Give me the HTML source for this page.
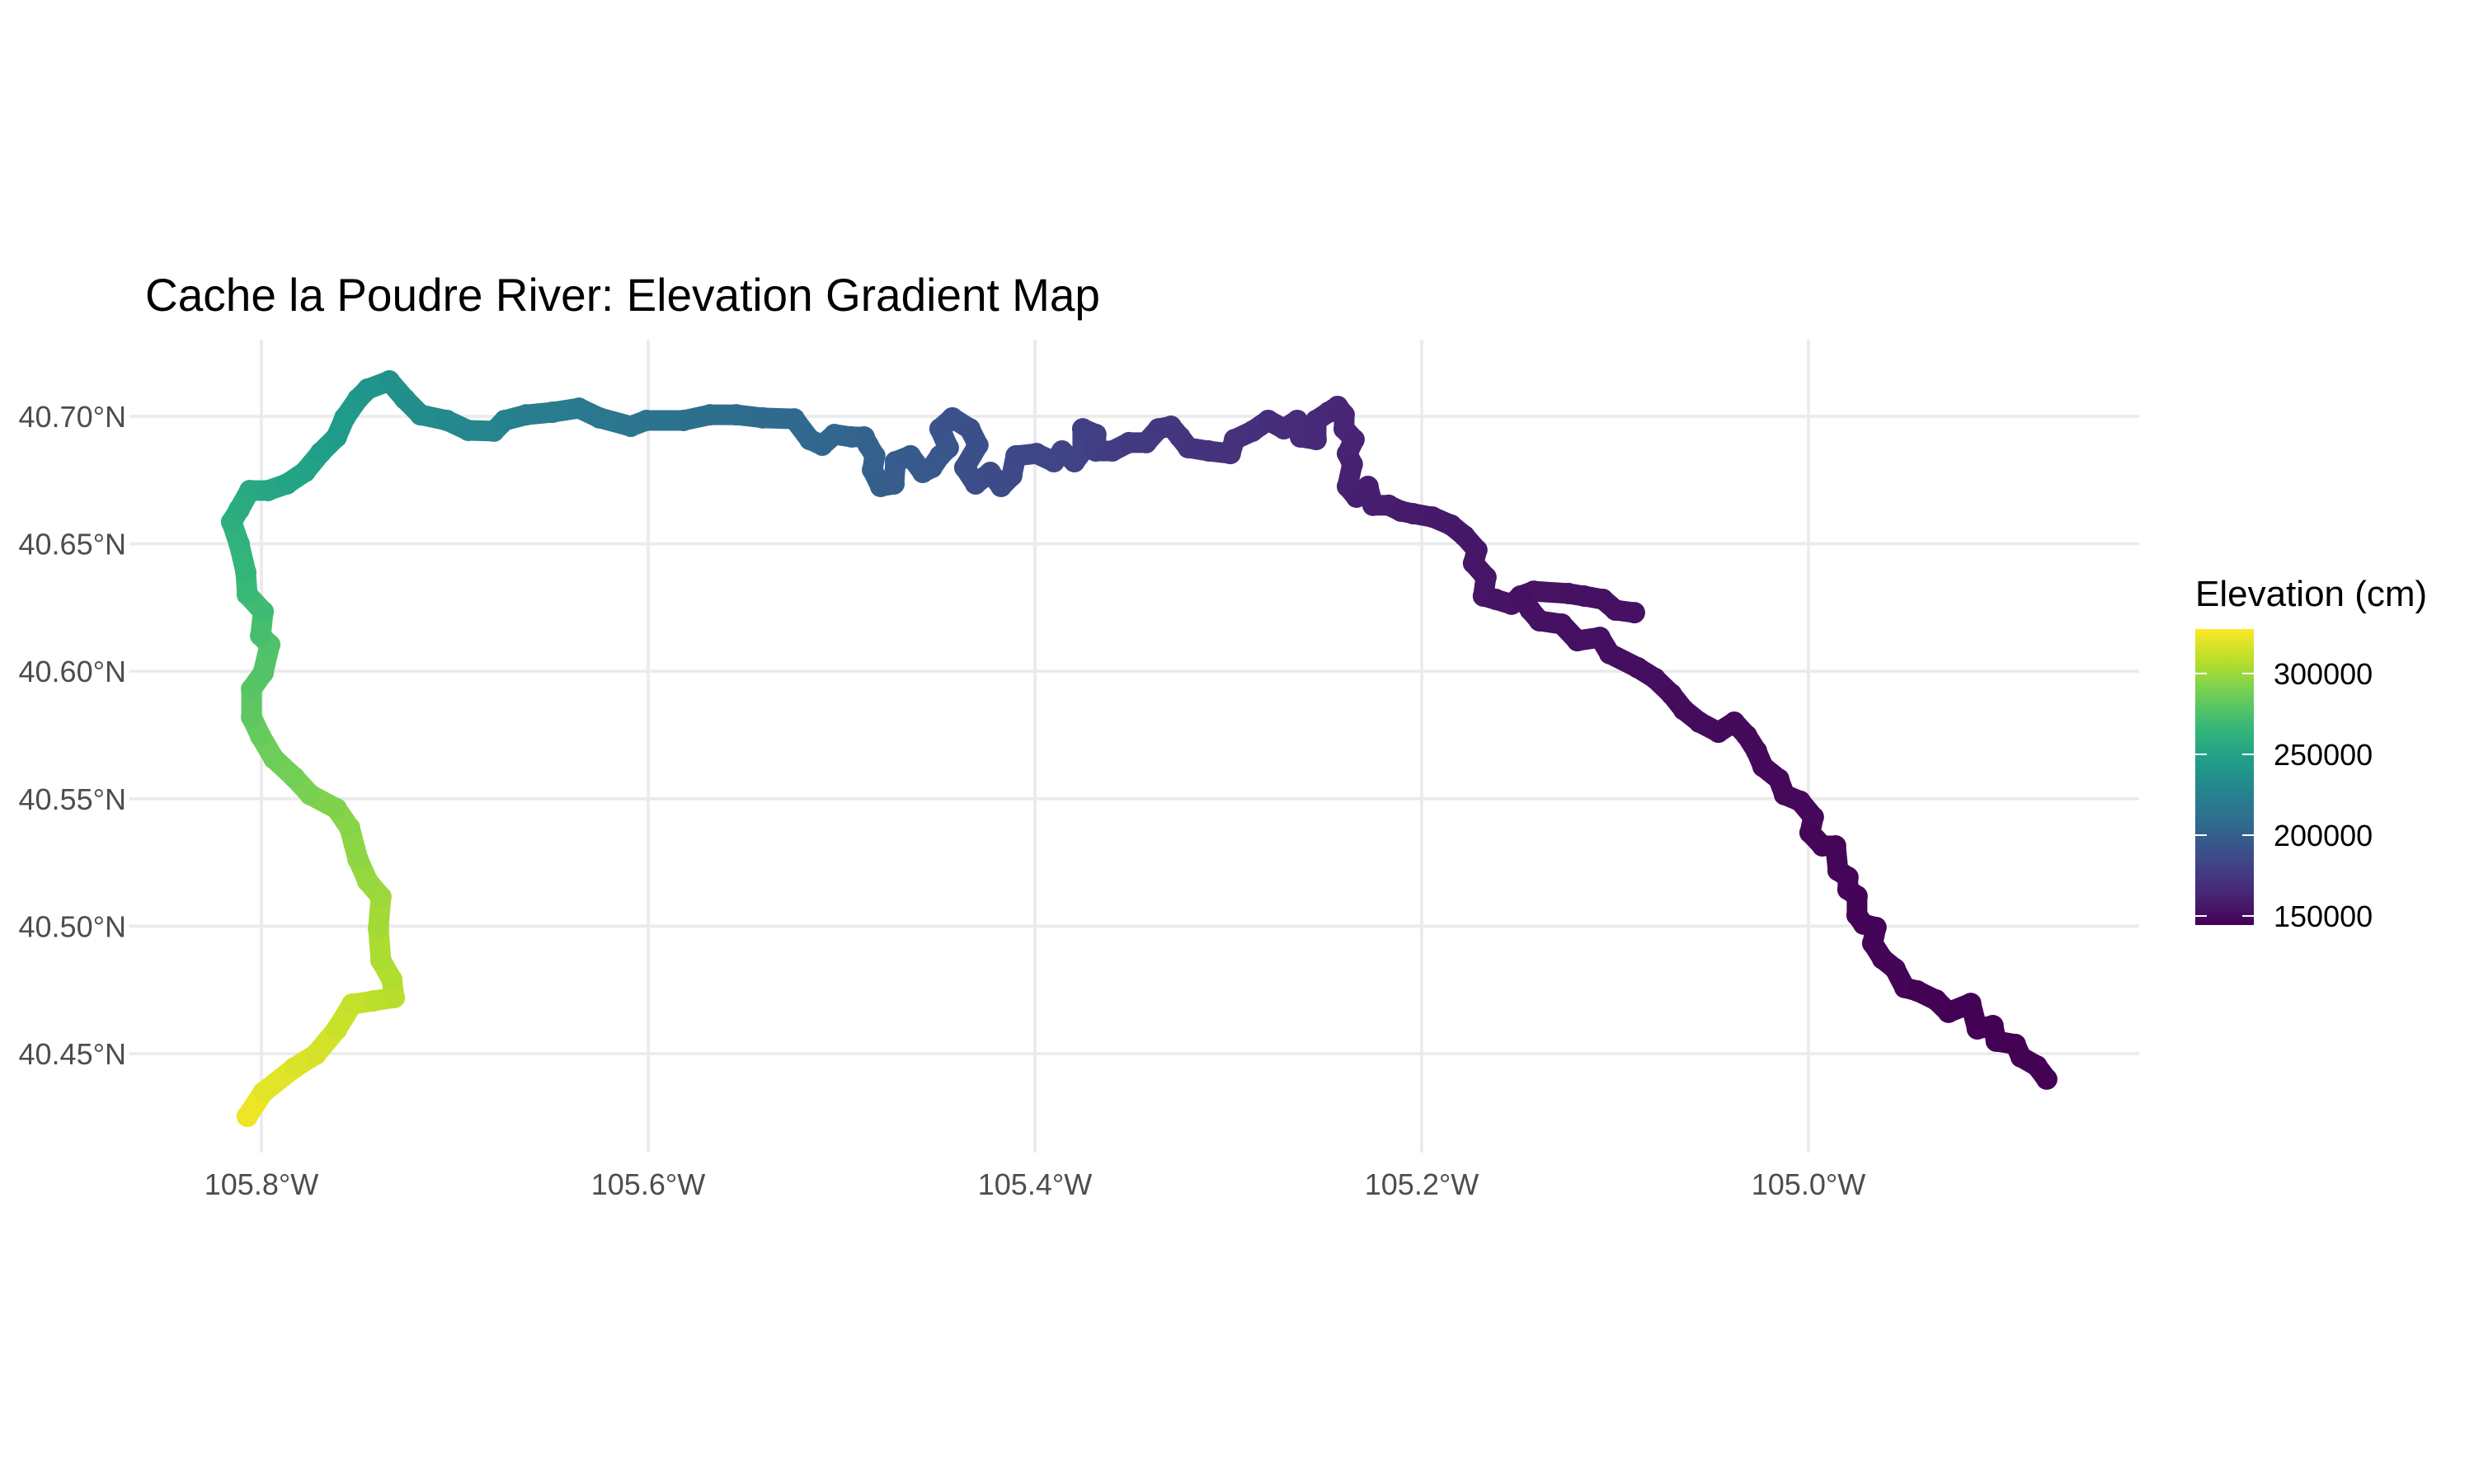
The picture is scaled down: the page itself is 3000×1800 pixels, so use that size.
<!DOCTYPE html>
<html><head><meta charset="utf-8"><style>
html,body{margin:0;padding:0;background:#fff;}
svg{display:block;font-family:"Liberation Sans",Arial,sans-serif;}
</style></head><body>
<svg id="chart" width="3000" height="1800" viewBox="0 0 3000 1800" xmlns="http://www.w3.org/2000/svg">
<rect width="3000" height="1800" fill="#ffffff"/>
<text x="176" y="377" font-size="56" fill="#000" textLength="1158" lengthAdjust="spacingAndGlyphs">Cache la Poudre River: Elevation Gradient Map</text>
<g id="grid"></g>
<g id="yticks"></g>
<g id="xticks"></g>
<g id="river"></g>
<g id="legend">
<text x="2662" y="735" font-size="44" fill="#000">Elevation (cm)</text>
<defs><linearGradient id="vgrad" x1="0" y1="1" x2="0" y2="0"></linearGradient></defs>
<rect x="2662" y="763" width="71" height="359" fill="url(#vgrad)"/>
<g id="legticks"></g>
</g>
</svg>
<script>
// ---- data ----
const lonTicks = [-105.8, -105.6, -105.4, -105.2, -105.0];
const lonTickLabels = ["105.8°W","105.6°W","105.4°W","105.2°W","105.0°W"];
const latTicks = [40.45, 40.50, 40.55, 40.60, 40.65, 40.70];
const latTickLabels = ["40.45°N","40.50°N","40.55°N","40.60°N","40.65°N","40.70°N"];
const legendTicks = [150000, 200000, 250000, 300000];
const legendTickLabels = ["150000","200000","250000","300000"];
const elevMin = 144400, elevMax = 327500;

const riverLon = [-105.8073,-105.7991,-105.7829,-105.7719,-105.7612,-105.7531,-105.7420,-105.7313,-105.7326,-105.7382,
-105.7395,-105.7382,-105.7450,-105.7501,-105.7544,-105.7612,-105.7748,-105.7829,-105.7936,-105.8004,
-105.8051,-105.8051,-105.7991,-105.7957,-105.8004,-105.7991,-105.8073,-105.8081,-105.8115,-105.8154,
-105.8115,-105.8060,-105.7966,-105.7868,-105.7774,-105.7693,-105.7612,-105.7569,-105.7501,-105.7450,
-105.7339,-105.7258,-105.7177,-105.7041,-105.6930,-105.6798,-105.6742,-105.6631,-105.6495,-105.6358,
-105.6252,-105.6090,-105.6009,-105.5817,-105.5680,-105.5544,-105.5407,-105.5245,
-105.5164,-105.5100,-105.5037,-105.4947,-105.4883,-105.4862,-105.4828,-105.4840,-105.4798,-105.4729,
-105.4721,-105.4644,-105.4580,-105.4533,-105.4491,-105.4448,-105.4491,-105.4427,-105.4337,-105.4295,
-105.4363,-105.4307,-105.4231,-105.4175,-105.4120,-105.4098,-105.3992,-105.3902,-105.3860,-105.3796,
-105.3753,-105.3753,-105.3685,-105.3685,-105.3600,-105.3514,-105.3425,-105.3361,-105.3297,-105.3250,
-105.3207,-105.3101,-105.2990,-105.2968,-105.2875,-105.2794,-105.2713,-105.2644,-105.2627,-105.2546,
-105.2546,-105.2482,-105.2435,-105.2401,-105.2401,-105.2350,-105.2384,-105.2359,-105.2384,-105.2337,
-105.2278,-105.2252,-105.2171,-105.2107,-105.2043,-105.1945,-105.1847,-105.1779,-105.1715,-105.1732,
-105.1668,-105.1681,-105.1617,-105.1536,-105.1489,
-105.1438,-105.1391,-105.1276,-105.1195,-105.1079,-105.1028,-105.0883,-105.0794,-105.0709,-105.0645,
-105.0564,-105.0466,-105.0384,-105.0320,-105.0269,-105.0235,-105.0154,-105.0124,-105.0043,-104.9975,
-104.9992,-104.9928,-104.9860,-104.9847,-104.9796,-104.9796,-104.9749,-104.9749,-104.9715,-104.9651,
-104.9668,-104.9617,-104.9553,-104.9502,-104.9438,-104.9340,-104.9276,-104.9161,-104.9127,-104.9046,
-104.9029,-104.8930,-104.8901,-104.8820,-104.8768];
const riverLat = [40.4254,40.4348,40.4445,40.4497,40.4594,40.4694,40.4707,40.4720,40.4791,40.4866,
40.4992,40.5115,40.5176,40.5263,40.5386,40.5461,40.5516,40.5583,40.5658,40.5745,
40.5820,40.5930,40.5994,40.6104,40.6140,40.6234,40.6301,40.6389,40.6499,40.6586,
40.6635,40.6709,40.6709,40.6735,40.6783,40.6858,40.6919,40.6994,40.7068,40.7107,
40.7139,40.7068,40.7006,40.6984,40.6945,40.6942,40.6984,40.7006,40.7016,40.7032,
40.6994,40.6961,40.6984,40.6984,40.7006,40.7006,40.6994,40.6990,
40.6909,40.6887,40.6929,40.6919,40.6919,40.6887,40.6845,40.6790,40.6725,40.6735,
40.6822,40.6845,40.6780,40.6799,40.6845,40.6877,40.6951,40.6994,40.6951,40.6887,
40.6799,40.6735,40.6780,40.6725,40.6767,40.6845,40.6854,40.6822,40.6864,40.6822,
40.6864,40.6951,40.6929,40.6864,40.6864,40.6897,40.6897,40.6951,40.6961,40.6919,
40.6877,40.6864,40.6854,40.6909,40.6942,40.6984,40.6951,40.6984,40.6919,40.6909,
40.6984,40.7016,40.7039,40.7006,40.6951,40.6909,40.6854,40.6812,40.6725,40.6683,
40.6725,40.6651,40.6651,40.6628,40.6618,40.6605,40.6573,40.6531,40.6476,40.6424,
40.6369,40.6295,40.6282,40.6263,40.6295,
40.6240,40.6198,40.6185,40.6120,40.6133,40.6069,40.6014,40.5972,40.5910,40.5849,
40.5800,40.5761,40.5800,40.5748,40.5687,40.5626,40.5577,40.5516,40.5490,40.5428,
40.5367,40.5315,40.5315,40.5218,40.5192,40.5144,40.5118,40.5043,40.5008,40.4995,
40.4933,40.4872,40.4833,40.4759,40.4746,40.4710,40.4662,40.4697,40.4597,40.4610,
40.4549,40.4536,40.4487,40.4452,40.4400];
// elevation in thousands of cm
const riverElevK = [325,323,320,318,316,313,311,309,308,306,
304,302,300,298,296,294,292,290,288,286,
284,281,279,277,275,273,270,268,265,262,
259,257,255,253,251,249,247,245,243,241,
239,237,235,233,231,229,227,225,223,221,
219,217,216,214,212,211,209,208,
207,206,205,204,203,202,202,201,200,199,
198,197,196,196,195,194,193,192,191,190,
190,189,188,187,186,185,184,183,183,182,
181,180,179,178,178,177,176,175,174,174,
173,172,171,170,170,169,168,167,167,166,
165,165,164,164,163,163,162,162,161,161,
160,160,159,159,158,158,157,157,156,156,
155,155,155,154,154,
153,153,153,152,152,152,151,151,151,150,
150,150,149,149,149,149,148,148,148,148,
148,147,147,147,147,147,147,146,146,146,
146,146,146,146,146,145,145,145,145,145,
145,145,145,145,145];
const spurLon = [-105.1489,-105.1421,-105.1242,-105.1160,-105.1063,-105.0998,-105.0900];
const spurLat = [40.6295,40.6314,40.6305,40.6295,40.6282,40.6240,40.6230];
const spurElevK = [154,154,154,153,153,153,153];

// ---- scales (styling) ----
const NS = "http://www.w3.org/2000/svg";
const panel = {x0:157, x1:2594, y0:412, y1:1398};
function xScale(lon){ return 317 + (lon + 105.8) * 2345; }
function yScale(lat){ return 505 - (lat - 40.70) * 3092; }
const viridis = ['#440154','#482878','#3e4989','#31688e','#26828e','#1f9e89','#35b779','#6ece58','#b5de2b','#fde725'];
function hex(c){return [parseInt(c.slice(1,3),16),parseInt(c.slice(3,5),16),parseInt(c.slice(5,7),16)];}
function colorFor(v){
  let t = (v - elevMin) / (elevMax - elevMin);
  t = Math.max(0, Math.min(1, t));
  const p = t * (viridis.length - 1), i = Math.min(Math.floor(p), viridis.length - 2), f = p - i;
  const a = hex(viridis[i]), b = hex(viridis[i+1]);
  return 'rgb(' + a.map((c,k)=>Math.round(c + (b[k]-c)*f)).join(',') + ')';
}
function mk(tag, attrs, parent){
  const el = document.createElementNS(NS, tag);
  for (const k in attrs) el.setAttribute(k, attrs[k]);
  parent.appendChild(el);
  return el;
}

// grid
const grid = document.getElementById('grid');
lonTicks.forEach((lon)=>{
  const l = mk('line', {x1:xScale(lon), x2:xScale(lon), y1:panel.y0, y2:panel.y1, stroke:'#ebebeb', 'stroke-width':3.8}, grid);
  
  
});
latTicks.forEach((lat)=>{
  const l = mk('line', {x1:panel.x0, x2:panel.x1, y1:yScale(lat), y2:yScale(lat), stroke:'#ebebeb', 'stroke-width':3.8}, grid);
  
  
});
// tick labels
const yt = document.getElementById('yticks');
latTicks.forEach((lat,i)=>{
  const t = mk('text', {x:153, y:yScale(lat)+13, 'font-size':36, fill:'#4d4d4d', 'text-anchor':'end'}, yt);
  t.textContent = latTickLabels[i];
  
  
});
const xt = document.getElementById('xticks');
lonTicks.forEach((lon,i)=>{
  const t = mk('text', {x:xScale(lon), y:1449, 'font-size':36, fill:'#4d4d4d', 'text-anchor':'middle'}, xt);
  t.textContent = lonTickLabels[i];
  
  
});

// river
const river = document.getElementById('river');
function drawSeries(lons, lats, elevs, name){
  const g = mk('g', {}, river);
  
  
  for (let i = 0; i < lons.length; i++){
    const col = colorFor(elevs[i]*1000);
    if (i > 0){
      const s = mk('line', {x1:xScale(lons[i-1]), y1:yScale(lats[i-1]), x2:xScale(lons[i]), y2:yScale(lats[i]),
        stroke:col, 'stroke-width':25, 'stroke-linecap':'round'}, g);
      
      
    }
    const c = mk('circle', {cx:xScale(lons[i]), cy:yScale(lats[i]), r:13, fill:col}, g);
    
    
  }
}
drawSeries(spurLon, spurLat, spurElevK, 'tributary-spur');
drawSeries(riverLon, riverLat, riverElevK, 'main-river');

// legend
const grad = document.getElementById('vgrad');
viridis.forEach((c,i)=>{ mk('stop', {offset:(i/(viridis.length-1)), 'stop-color':c}, grad); });
const lt = document.getElementById('legticks');
function legY(v){ return 1122 - (v - elevMin) / (elevMax - elevMin) * 359; }
legendTicks.forEach((v,i)=>{
  const y = legY(v);
  const a = mk('line', {x1:2662, x2:2676, y1:y, y2:y, stroke:'#fff', 'stroke-width':2}, lt);
  
  
  const b = mk('line', {x1:2719, x2:2733, y1:y, y2:y, stroke:'#fff', 'stroke-width':2}, lt);
  
  
  const t = mk('text', {x:2757, y:y+13, 'font-size':36, fill:'#000'}, lt);
  t.textContent = legendTickLabels[i];
  
  
});
</script>
</body></html>
